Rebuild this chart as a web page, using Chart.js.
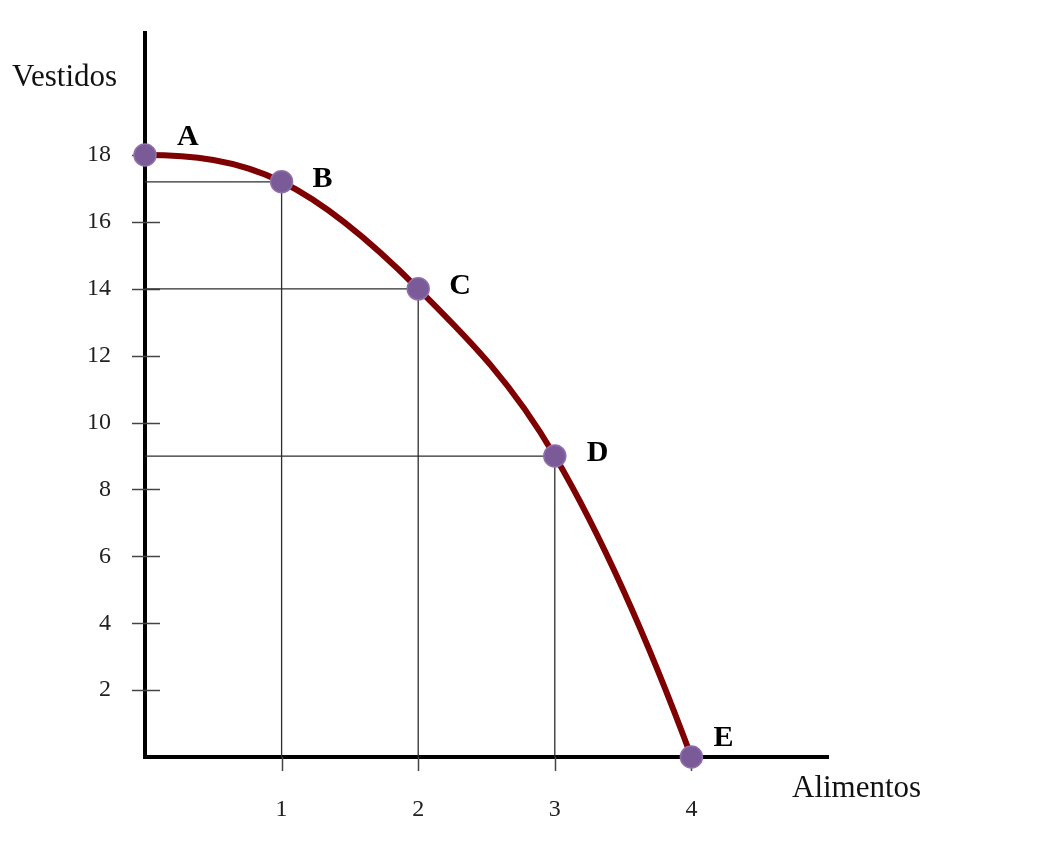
<!DOCTYPE html>
<html>
<head>
<meta charset="utf-8">
<script src="https://cdn.jsdelivr.net/npm/chart.js@4.4.1/dist/chart.umd.min.js"></script>
<style>
  html, body { margin: 0; padding: 0; background: #fff; }
  canvas { display: block; }
</style>
</head>
<body>
<canvas id="ppf" width="1044" height="844"></canvas>
<script>
// Frontera de posibilidades de producción
const pointNames = ["A", "B", "C", "D", "E"];
const alimentos = [0, 1, 2, 3, 4];
const vestidos = [18, 17.2, 14, 9, 0];
const xTickValues = [1, 2, 3, 4];
const yTickValues = [2, 4, 6, 8, 10, 12, 14, 16, 18];
const guideIdx = [1, 2, 3]; // B, C, D get reference lines

const SERIF = '"Liberation Serif", "Times New Roman", serif';

const curveData = alimentos.map((x, i) => ({ x: x, y: vestidos[i] }));

// thin lines from each point to both axes
const guideSets = guideIdx.map(i => ({
  data: [
    { x: 0, y: vestidos[i] },
    { x: alimentos[i], y: vestidos[i] },
    { x: alimentos[i], y: 0 }
  ],
  showLine: true,
  borderColor: "#2e2e2e",
  borderWidth: 1.3,
  pointRadius: 0,
  tension: 0,
  clip: false,
  order: 2
}));

// smooth concave frontier through the point elements (pixel positions come from the scales)
function drawFrontier(ctx, pts) {
  const n = pts.length;
  const tan = pts.map((p, i) => {
    if (i === 0 || i === n - 1) return null;
    return { x: (pts[i + 1].x - pts[i - 1].x) / 2, y: (pts[i + 1].y - pts[i - 1].y) / 2 };
  });
  // natural end conditions
  tan[0] = { x: 2 * (pts[1].x - pts[0].x) - tan[1].x, y: Math.max(0, 2 * (pts[1].y - pts[0].y) - tan[1].y) };
  tan[n - 1] = { x: 2 * (pts[n - 1].x - pts[n - 2].x) - tan[n - 2].x, y: 2 * (pts[n - 1].y - pts[n - 2].y) - tan[n - 2].y };
  ctx.beginPath();
  ctx.moveTo(pts[0].x, pts[0].y);
  for (let i = 0; i < n - 1; i++) {
    const p = pts[i], q = pts[i + 1];
    ctx.bezierCurveTo(p.x + tan[i].x / 3, p.y + tan[i].y / 3,
                      q.x - tan[i + 1].x / 3, q.y - tan[i + 1].y / 3, q.x, q.y);
  }
  ctx.stroke();
}

// tick marks crossing the axes + curve + axis titles + point letters
const decorPlugin = {
  id: "decor",
  beforeDatasetsDraw(chart) {
    const { ctx, chartArea, scales } = chart;
    ctx.save();
    ctx.strokeStyle = "#444";
    ctx.lineWidth = 1.5;
    yTickValues.forEach(v => {
      const y = Math.round(scales.y.getPixelForValue(v)) + 0.5;
      ctx.beginPath();
      ctx.moveTo(chartArea.left - 13, y);
      ctx.lineTo(chartArea.left + 15, y);
      ctx.stroke();
    });
    xTickValues.forEach(v => {
      const x = Math.round(scales.x.getPixelForValue(v)) + 0.5;
      ctx.beginPath();
      ctx.moveTo(x, chartArea.bottom);
      ctx.lineTo(x, chartArea.bottom + 14);
      ctx.stroke();
    });
    ctx.restore();
  },
  beforeDatasetDraw(chart, args) {
    if (args.index !== 0) return;
    const ctx = chart.ctx;
    const pts = chart.getDatasetMeta(0).data.map(p => ({ x: p.x, y: p.y }));
    ctx.save();
    ctx.strokeStyle = "#7f0000";
    ctx.lineWidth = 6;
    ctx.lineCap = "round";
    ctx.lineJoin = "round";
    drawFrontier(ctx, pts);
    ctx.restore();
  },
  afterDraw(chart) {
    const { ctx, chartArea } = chart;
    ctx.save();
    ctx.fillStyle = "#111";
    ctx.textBaseline = "alphabetic";
    ctx.textAlign = "left";
    ctx.font = "31px " + SERIF;
    ctx.fillText("Vestidos", 12, chartArea.top + 53);
    ctx.fillText("Alimentos", 792, chartArea.bottom + 40);

    const offsets = { A: [32, -10], B: [31, 5], C: [31, 5], D: [32, 5], E: [22, -11] };
    const meta = chart.getDatasetMeta(0);
    ctx.fillStyle = "#000";
    ctx.font = "bold 30px " + SERIF;
    meta.data.forEach((pt, i) => {
      const name = pointNames[i];
      const o = offsets[name];
      ctx.fillText(name, pt.x + o[0], pt.y + o[1]);
    });
    ctx.restore();
  }
};

new Chart(document.getElementById("ppf"), {
  type: "scatter",
  data: {
    datasets: [
      {
        data: curveData,
        showLine: false,
        pointRadius: 11,
        pointBackgroundColor: "#7b5a98",
        pointBorderColor: "#8f70ad",
        pointBorderWidth: 1.5,
        clip: false,
        order: 1
      },
      ...guideSets
    ]
  },
  options: {
    responsive: false,
    animation: false,
    events: [],
    layout: { padding: { left: 0, top: 33, right: 216, bottom: 0 } },
    plugins: { legend: { display: false }, tooltip: { enabled: false } },
    scales: {
      x: {
        type: "linear",
        min: 0,
        max: 5,
        grid: { display: false },
        border: { display: true, color: "#000", width: 4 },
        afterBuildTicks: s => { s.ticks = xTickValues.map(v => ({ value: v })); },
        afterFit: s => { s.height = 87; s.paddingLeft = 0; s.paddingRight = 0; },
        ticks: {
          padding: 30,
          color: "#222",
          font: { family: SERIF, size: 24 }
        }
      },
      y: {
        type: "linear",
        min: 0,
        max: 21.65,
        grid: { display: false },
        border: { display: true, color: "#000", width: 4 },
        afterBuildTicks: s => { s.ticks = yTickValues.map(v => ({ value: v })); },
        afterFit: s => { s.width = 145; s.paddingTop = 0; s.paddingBottom = 0; },
        ticks: {
          padding: 26,
          color: "#222",
          font: { family: SERIF, size: 24 }
        }
      }
    }
  },
  plugins: [decorPlugin]
});
</script>
</body>
</html>
